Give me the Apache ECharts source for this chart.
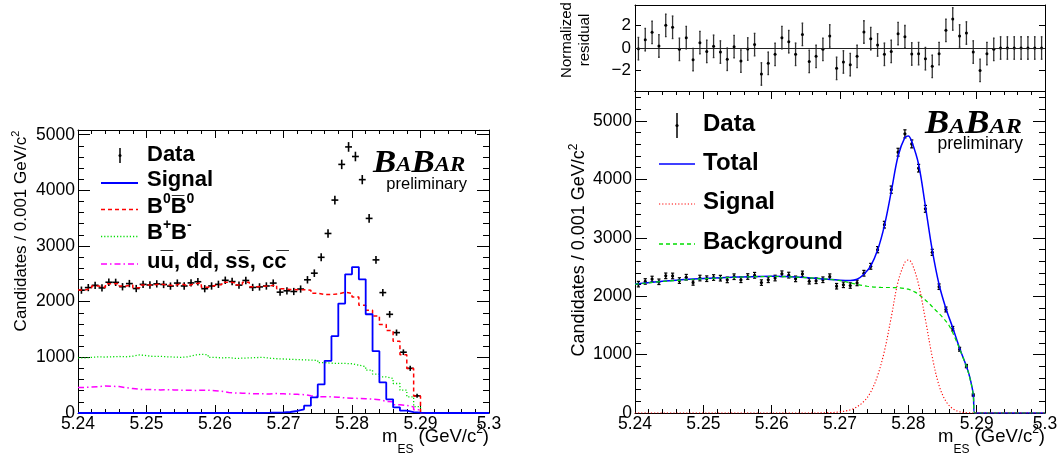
<!DOCTYPE html>
<html>
<head>
<meta charset="utf-8">
<script src="https://cdn.jsdelivr.net/npm/echarts@6.0.0/dist/echarts.min.js"></script>
<style>
html, body { margin: 0; padding: 0; background: #ffffff; }
#chart { width: 1061px; height: 464px; }
</style>
</head>
<body>
<div id="chart"></div>
<script>
// ---------------- binning ----------------
const massMin = 5.24, massMax = 5.30, binWidth = 0.001;

// ---------------- data (bins 1..50, 5.240-5.290) ----------------
const dataCounts = [2207,2253,2294,2247,2349,2347,2268,2325,2236,2311,
                    2300,2320,2309,2280,2334,2282,2337,2358,2233,2282,
                    2311,2384,2361,2297,2381,2256,2265,2282,2334,2171,
                    2195,2183,2227,2393,2512,2797,3225,3825,4466,4780,
                    4608,4192,3496,2751,2163,1773,1444,1092,803,308];
const dataErrors = [47,47,48,47,48,48,48,48,47,48,
                    48,48,48,48,48,48,48,49,47,48,
                    48,49,49,48,49,47,48,48,48,47,
                    47,47,47,49,50,53,57,62,67,69,
                    68,65,59,52,47,42,38,33,28,18];

// ---------------- left panel: MC histograms (60 bins) ----------------
const signalHist = [0,0,0,0,0,0,0,0,0,0, 0,0,0,0,0,0,0,0,0,0,
                    0,0,0,0,2,3,4,5,7,10, 18,36,66,131,281,514,938,1380,1965,2491,
                    2622,2401,1774,1111,550,245,102,42,15,5, 0,0,0,0,0,0,0,0,0,0];
const b0b0Hist = [2210,2240,2280,2260,2320,2330,2280,2300,2250,2300,
                  2300,2315,2300,2290,2320,2290,2320,2340,2260,2290,
                  2310,2350,2340,2300,2350,2270,2275,2285,2300,2230,
                  2220,2215,2215,2205,2150,2128,2128,2140,2168,2150,
                  2085,1935,1845,1744,1590,1480,1290,1045,800,305,
                  0,0,0,0,0,0,0,0,0,0];
const bpbmHist = [990,1000,1010,1005,1010,1015,1010,1020,1045,1030,
                  1015,1020,1010,1005,1000,1010,1040,1055,1045,1000,
                  990,995,980,985,990,995,1000,985,975,970,
                  965,960,955,950,945,905,895,890,890,885,
                  860,830,770,700,650,620,530,410,290,115,
                  0,0,0,0,0,0,0,0,0,0];
const continuumHist = [460,465,475,485,480,475,455,440,425,420,
                       420,415,420,415,410,410,405,410,410,400,
                       390,370,360,355,350,345,345,340,350,345,
                       340,335,330,310,295,290,290,285,270,265,
                       262,258,250,240,210,200,150,135,110,60,
                       0,0,0,0,0,0,0,0,0,0];

// ---------------- right panel: fit curves ----------------
const totalMass = [5.2400,5.2450,5.2500,5.2550,5.2600,5.2650,5.2680,5.2700,5.2715,5.2725,
                   5.2735,5.2745,5.2755,5.2765,5.2775,5.2785,5.2795,5.2800,5.2805,5.2815,
                   5.2825,5.2835,5.2845,5.2855,5.2865,5.2875,5.2885,5.2890,5.2895,5.2897,5.3000];
const totalVal  = [2210,2265,2302,2328,2342,2322,2292,2275,2270,2290,
                   2375,2520,2790,3210,3790,4400,4720,4745,4650,4260,
                   3540,2790,2200,1790,1460,1110,800,610,320,0,0];
const signalMass = [5.2400,5.2650,5.2680,5.2700,5.2720,5.2735,5.2745,5.2755,5.2765,5.2775,
                    5.2785,5.2795,5.2800,5.2805,5.2815,5.2825,5.2835,5.2845,5.2855,5.2865,
                    5.2875,5.2885,5.2900,5.3000];
const signalVal  = [0,0,5,20,75,200,360,640,1060,1640,
                    2250,2580,2620,2570,2200,1600,960,470,200,75,
                    22,5,0,0];
const bkgMass = [5.2400,5.2450,5.2500,5.2550,5.2600,5.2650,5.2700,5.2720,5.2740,5.2760,
                 5.2780,5.2790,5.2800,5.2810,5.2820,5.2830,5.2840,5.2850,5.2860,5.2870,
                 5.2880,5.2885,5.2890,5.2895,5.2897,5.3000];
const bkgVal  = [2205,2262,2298,2325,2338,2318,2268,2215,2170,2150,
                 2148,2140,2120,2070,1985,1880,1760,1640,1490,1240,
                 950,800,600,310,0,0];

// ---------------- normalized residuals (60 bins) ----------------
const residuals = [-0.06,0.74,1.39,0.18,2.01,1.84,-0.12,0.92,-1.04,0.47,
                   -0.30,0.15,-0.36,-1.00,0.12,-1.16,-0.09,0.30,-2.31,-1.36,
                   -0.56,0.92,0.56,-0.56,1.21,-1.19,-0.74,-0.12,1.07,-1.81,
                   -1.24,-1.48,-0.74,1.42,0.83,0.27,-0.56,-0.30,1.27,1.00,
                   -0.53,-0.50,-0.95,-1.63,-0.50,1.57,2.58,1.07,1.33,-0.36,
                   -1.99,-0.50,-0.12,0,0,0,0,0,0,0];
const residualErrors = [1,1,1,1,1,1,1,1,1,1, 1,1,1,1,1,1,1,1,1,1,
                        1,1,1,1,1,1,1,1,1,1, 1,1,1,1,1,1,1,1,1,1,
                        1,1,1,1,1,1,1,1,1,1, 1,1,1,1,1,1,1,1,1,1];

// ---------------- axis ranges ----------------
const leftMax = 5084, rightMax = 5514, resRange = 3.82;

// ---------------- styles ----------------
const SANS = '"Liberation Sans", Arial, Helvetica, sans-serif';
const SERIF = '"Liberation Serif", "Times New Roman", serif';
const BLACK = '#000000';
const BLUE = '#0000ff', RED = '#ff0000', GREEN = '#00dd00', MAGENTA = '#ff00ff';

function binCenter(i) { return massMin + (i + 0.5) * binWidth; }
function histSteps(vals) {
  const pts = vals.map((v, i) => [massMin + i * binWidth, v]);
  pts.push([massMax, vals[vals.length - 1]]);
  return pts;
}
function zipXY(xs, ys) { return xs.map((x, i) => [x, ys[i]]); }

function massAxis(grid, position, labels, tickLen, minorLen) {
  return {
    type: 'value', gridIndex: grid, position: position,
    min: massMin, max: massMax, interval: 0.01,
    axisLine: {show: true, onZero: false, lineStyle: {color: BLACK, width: 1}},
    axisTick: {show: tickLen > 0, inside: true, length: tickLen, lineStyle: {color: BLACK, width: 1}},
    minorTick: {show: minorLen > 0, splitNumber: 5, length: minorLen, lineStyle: {color: BLACK, width: 1}},
    axisLabel: labels ? {show: true, margin: 2, color: BLACK, fontFamily: SANS, fontSize: 17.5,
      formatter: v => String(Math.round(v * 100) / 100)} : {show: false},
    splitLine: {show: false}, minorSplitLine: {show: false}
  };
}
function countAxis(grid, position, max, interval, tickLen, labels, showLine) {
  return {
    type: 'value', gridIndex: grid, position: position, min: 0, max: max, interval: interval,
    axisLine: {show: showLine, onZero: false, lineStyle: {color: BLACK, width: 1}},
    axisTick: {show: true, inside: true, length: tickLen, lineStyle: {color: BLACK, width: 1}},
    axisLabel: labels ? {show: true, margin: 3, color: BLACK, fontFamily: SANS, fontSize: 17.5,
      showMaxLabel: false, formatter: v => (v % 1000 === 0 ? String(v) : '')} : {show: false},
    splitLine: {show: false}
  };
}
function residAxis(position, labels) {
  return {
    type: 'value', gridIndex: 1, position: position, min: -resRange, max: resRange, splitNumber: 4,
    axisLine: {show: true, onZero: false, lineStyle: {color: BLACK, width: 1}},
    axisTick: {show: true, inside: true, length: 6, lineStyle: {color: BLACK, width: 1}},
    axisLabel: labels ? {show: true, margin: 4, color: BLACK, fontFamily: SANS, fontSize: 17,
      showMinLabel: false, showMaxLabel: false,
      formatter: v => (Math.abs(v) === 2 || v === 0) ? (v < 0 ? '\u2212' + Math.abs(v) : String(v)) : ''} : {show: false},
    splitLine: {show: false}
  };
}

// ---------------- custom renderers ----------------
function crossRender(params, api) {
  const x = api.value(0), y = api.value(1), e = api.value(2);
  const a = api.coord([x - binWidth / 2, y]), b = api.coord([x + binWidth / 2, y]);
  const t = api.coord([x, y + e]), u = api.coord([x, y - e]);
  const st = {stroke: BLACK, lineWidth: 1.6};
  return {type: 'group', children: [
    {type: 'line', shape: {x1: a[0], y1: a[1], x2: b[0], y2: b[1]}, style: st},
    {type: 'line', shape: {x1: t[0], y1: t[1] - 1, x2: u[0], y2: u[1] + 1}, style: st}
  ]};
}
function barRenderer(capHalf, radius, barColor, barWidth) {
  return function (params, api) {
    const x = api.value(0), y = api.value(1), e = api.value(2);
    const c = api.coord([x, y]), t = api.coord([x, y + e]), u = api.coord([x, y - e]);
    const st = {stroke: barColor, lineWidth: barWidth};
    return {type: 'group', children: [
      {type: 'line', shape: {x1: t[0], y1: t[1], x2: u[0], y2: u[1]}, style: st},
      {type: 'line', shape: {x1: t[0] - capHalf, y1: t[1], x2: t[0] + capHalf, y2: t[1]}, style: st},
      {type: 'line', shape: {x1: u[0] - capHalf, y1: u[1], x2: u[0] + capHalf, y2: u[1]}, style: st},
      {type: 'circle', shape: {cx: c[0], cy: c[1], r: radius}, style: {fill: BLACK}}
    ]};
  };
}

const dataPts = dataCounts.map((v, i) => [binCenter(i), v, dataErrors[i]]);
const residPts = residuals.map((v, i) => [binCenter(i), v, residualErrors[i]]);

function histSeries(name, vals, color, width, dash) {
  return {name: name, type: 'line', xAxisIndex: 0, yAxisIndex: 0, step: 'end',
    symbol: 'none', data: histSteps(vals), silent: true,
    lineStyle: {color: color, width: width, type: dash}};
}
function curveSeries(name, xs, ys, color, width, dash) {
  return {name: name, type: 'line', xAxisIndex: 4, yAxisIndex: 6, smooth: 0.35,
    symbol: 'none', data: zipXY(xs, ys), silent: true,
    lineStyle: {color: color, width: width, type: dash}};
}

// ---------------- graphics: legends, logos, axis titles ----------------
const g = [];
function line(x1, y1, x2, y2, color, width, dash) {
  g.push({type: 'line', silent: true, shape: {x1, y1, x2, y2},
    style: {stroke: color, lineWidth: width, lineDash: dash || null}});
}
function legendRich(size) {
  return {
    n: {fontSize: size, fontWeight: 'bold', fontFamily: SANS, lineHeight: size + 2, padding: [4, 0, 0, 0], verticalAlign: 'top'},
    s: {fontSize: Math.round(size * 0.62), fontWeight: 'bold', fontFamily: SANS, lineHeight: Math.round(size * 0.62), verticalAlign: 'top'}
  };
}
function legendText(x, capCenter, text, size) {
  const top = capCenter - (4 + (size + 2) / 2);
  g.push({type: 'text', silent: true, x: x, y: top,
    style: {text: text, fill: BLACK, align: 'left', verticalAlign: 'top', rich: legendRich(size)}});
}

// left legend
line(120, 148, 120, 163, BLACK, 1.5);
g.push({type: 'circle', silent: true, shape: {cx: 120, cy: 155.5, r: 1.5}, style: {fill: BLACK}});
line(101, 183, 138, 183, BLUE, 2);
line(101, 209.5, 138, 209.5, RED, 1.5, [4, 3]);
line(101, 236.5, 138, 236.5, GREEN, 1.3, [1.2, 2]);
line(101, 264, 138, 264, MAGENTA, 1.5, [6, 3, 1.5, 3]);
legendText(147, 155.5, '{n|Data}', 22);
legendText(147, 181, '{n|Signal}', 22);
legendText(147, 208, '{n|B}{s|0}{n|B\u0305}{s|0}', 22);
legendText(147, 234, '{n|B}{s|+}{n|B}{s|-}', 22);
legendText(147, 262.5, '{n|uu\u0305, dd\u0305, ss\u0305, cc\u0305}', 22);

// right legend
line(677, 113, 677, 138, BLACK, 1.5);
g.push({type: 'circle', silent: true, shape: {cx: 677, cy: 125.5, r: 1.6}, style: {fill: BLACK}});
line(659, 164, 695, 164, BLUE, 1.6);
line(659, 204, 695, 204, RED, 1.2, [1.2, 2]);
line(659, 244, 695, 244, GREEN, 1.3, [4, 3]);
legendText(703, 125.8, '{n|Data}', 24);
legendText(703, 164, '{n|Total}', 24);
legendText(703, 203, '{n|Signal}', 24);
legendText(703, 243.8, '{n|Background}', 24);

// BaBar logos (big/small caps, baseline-aligned via top padding)
function logo(x, baseline, big, small, sx, prelimRight, prelimBase, prelimSize) {
  const k = 0.74;
  const pad = Math.round(k * (big - small) * 10) / 10;
  g.push({type: 'text', silent: true, x: x, y: baseline - k * big, scaleX: sx, scaleY: 1,
    style: {text: '{b|B}{s|A}{b|B}{s|AR}', fill: BLACK, align: 'left', verticalAlign: 'top',
      rich: {
        b: {fontSize: big, fontFamily: SERIF, fontStyle: 'italic', fontWeight: 'bold', lineHeight: big, verticalAlign: 'top'},
        s: {fontSize: small, fontFamily: SERIF, fontStyle: 'italic', fontWeight: 'bold', lineHeight: big,
            padding: [pad, 0, 0, 0], verticalAlign: 'top'}
      }}});
  g.push({type: 'text', silent: true, x: prelimRight, y: prelimBase - 0.34 * prelimSize,
    style: {text: 'preliminary', fill: BLACK, align: 'right', verticalAlign: 'middle',
      fontFamily: SANS, fontSize: prelimSize}});
}
logo(373, 171, 32, 21, 1.09, 467, 190, 16.5);
logo(925, 132.3, 33, 22, 1.1, 1023, 150, 17.5);

// x axis titles
function xTitle(right) {
  g.push({type: 'text', silent: true, x: right, y: 421,
    style: {text: '{t|m}{d|ES}{t| (GeV/c}{u|2}{t|)}', fill: BLACK, align: 'right', verticalAlign: 'top',
      rich: {
        t: {fontSize: 18.5, fontFamily: SANS, lineHeight: 21, padding: [6, 0, 0, 0], verticalAlign: 'top'},
        d: {fontSize: 12, fontFamily: SANS, lineHeight: 12, padding: [23, 0, 0, 0], verticalAlign: 'top'},
        u: {fontSize: 12, fontFamily: SANS, lineHeight: 12, padding: [3, 0, 0, 0], verticalAlign: 'top'}
      }}});
}
xTitle(489);
xTitle(1045);

// y axis titles
function yTitle(cx, cy, size) {
  g.push({type: 'text', silent: true, x: cx, y: cy, rotation: Math.PI / 2,
    style: {text: '{t|Candidates / 0.001 GeV/c}{u|2}', fill: BLACK, align: 'center', verticalAlign: 'middle',
      rich: {
        t: {fontSize: size, fontFamily: SANS, lineHeight: size + 2, padding: [6, 0, 0, 0], verticalAlign: 'top'},
        u: {fontSize: Math.round(size * 0.65), fontFamily: SANS, lineHeight: Math.round(size * 0.65), padding: [4, 0, 0, 0], verticalAlign: 'top'}
      }}});
}
yTitle(16, 231, 17);
yTitle(574, 250, 18);

g.push({type: 'text', silent: true, x: 576, y: 40, rotation: Math.PI / 2,
  style: {text: 'Normalized\nresidual', fill: BLACK, align: 'center', verticalAlign: 'middle',
    fontFamily: SANS, fontSize: 15, lineHeight: 18}});

// ---------------- option ----------------
const option = {
  animation: false,
  backgroundColor: '#ffffff',
  grid: [
    {left: 78, top: 130, width: 411, height: 283, outerBoundsMode: 'none', containLabel: false},
    {left: 635, top: 5, width: 410, height: 86, outerBoundsMode: 'none', containLabel: false},
    {left: 635, top: 91, width: 410, height: 322, outerBoundsMode: 'none', containLabel: false}
  ],
  xAxis: [
    massAxis(0, 'bottom', true, 8, 4),
    massAxis(0, 'top', false, 8, 4),
    massAxis(1, 'bottom', false, 0, 0),
    massAxis(1, 'top', false, 0, 0),
    massAxis(2, 'bottom', true, 8, 4),
    massAxis(2, 'top', false, 8, 4)
  ],
  yAxis: [
    countAxis(0, 'left', leftMax, 1000, 12, true, true),
    countAxis(0, 'left', leftMax, 200, 6, false, false),
    countAxis(0, 'right', leftMax, 1000, 12, false, true),
    countAxis(0, 'right', leftMax, 200, 6, false, false),
    residAxis('left', true),
    residAxis('right', false),
    countAxis(2, 'left', rightMax, 1000, 12, true, true),
    countAxis(2, 'left', rightMax, 200, 6, false, false),
    countAxis(2, 'right', rightMax, 1000, 12, false, true),
    countAxis(2, 'right', rightMax, 200, 6, false, false)
  ],
  series: [
    histSeries('uu, dd, ss, cc', continuumHist, MAGENTA, 1.5, [6, 3, 1.5, 3]),
    histSeries('B+B-', bpbmHist, GREEN, 1.3, [1.2, 2]),
    histSeries('B0B0', b0b0Hist, RED, 1.5, [4, 3]),
    histSeries('Signal MC', signalHist, BLUE, 1.8, 'solid'),
    {name: 'Data (left)', type: 'custom', xAxisIndex: 0, yAxisIndex: 0, silent: true,
      renderItem: crossRender, data: dataPts, encode: {x: 0, y: 1}},
    curveSeries('Total', totalMass, totalVal, BLUE, 1.5, 'solid'),
    curveSeries('Background', bkgMass, bkgVal, GREEN, 1.2, [4, 3]),
    curveSeries('Signal', signalMass, signalVal, RED, 1.1, [1.2, 2]),
    {name: 'Data (right)', type: 'custom', xAxisIndex: 4, yAxisIndex: 6, silent: true,
      renderItem: barRenderer(1.6, 1.6, BLACK, 1.2), data: dataPts, encode: {x: 0, y: 1}},
    {name: 'Residual', type: 'custom', xAxisIndex: 2, yAxisIndex: 4, silent: true,
      renderItem: barRenderer(0.8, 1.5, '#333333', 1.3), data: residPts, encode: {x: 0, y: 1},
      markLine: {silent: true, symbol: 'none', label: {show: false},
        lineStyle: {color: '#222222', width: 1, type: 'solid'}, data: [{yAxis: 0}]}}
  ],
  graphic: {elements: g}
};

const chart = echarts.init(document.getElementById('chart'), null, {renderer: 'canvas'});
chart.setOption(option);
</script>
</body>
</html>
